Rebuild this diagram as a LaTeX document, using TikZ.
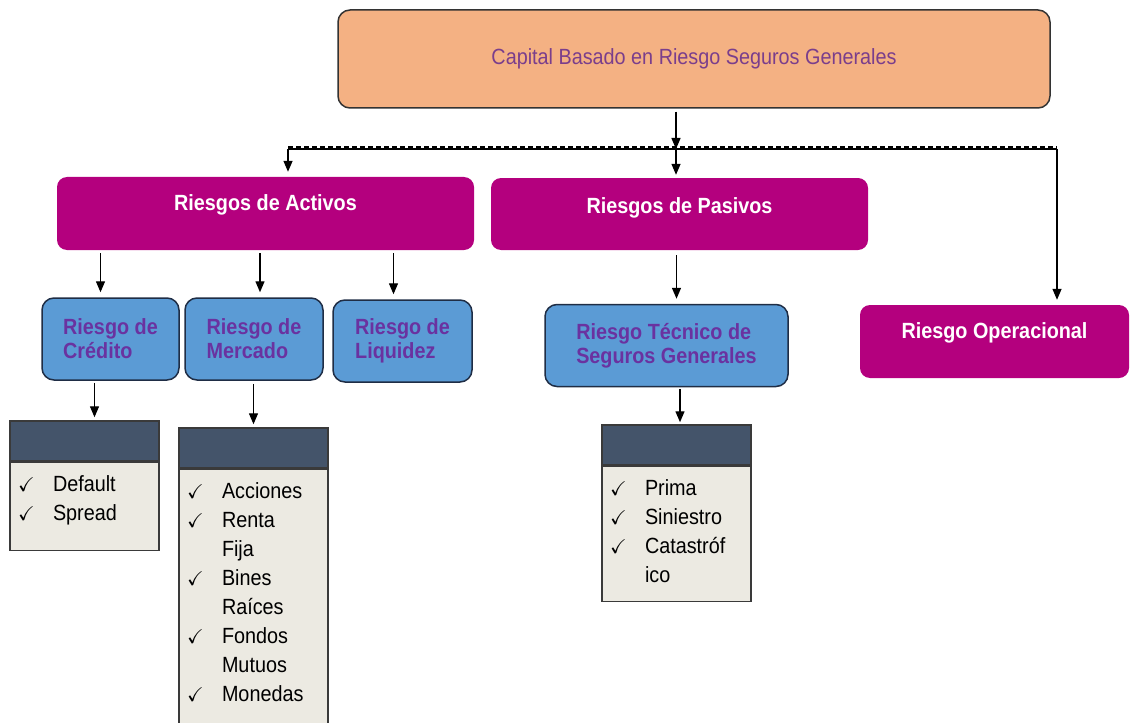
\documentclass[tikz,border=0pt]{standalone}
\usepackage{amssymb}
\usepackage{fontspec}
\setmainfont{Liberation Sans}[FakeStretch=0.9]
\usetikzlibrary{arrows.meta,positioning}
\definecolor{peach}{HTML}{F4B183}
\definecolor{capviolet}{HTML}{7A3E8C}
\definecolor{magentabox}{HTML}{B4007E}
\definecolor{bluebox}{HTML}{5B9BD5}
\definecolor{blueedge}{HTML}{1F2D45}
\definecolor{bluetext}{HTML}{6A32A0}
\definecolor{listhead}{HTML}{44546A}
\definecolor{listbody}{HTML}{ECEAE2}
\definecolor{listedge}{HTML}{3A3A3A}

\newcommand{\ck}{\makebox[35pt][l]{\fontsize{20}{20}\selectfont$\checkmark$}}
\newcommand{\nock}{\makebox[35pt][l]{}}

\tikzset{
  every node/.style={font=\fontsize{22}{26}\selectfont},
  capbox/.style={rectangle,rounded corners=12pt,draw=black!80,line width=1.5pt,fill=peach,text=capviolet,minimum width=712pt,minimum height=98pt},
  riskbox/.style={rectangle,rounded corners=10pt,fill=magentabox,text=white,font=\fontsize{22}{26}\selectfont\bfseries,inner ysep=0pt,text height=14pt,text depth=#1},
  subbox/.style={rectangle,rounded corners=12pt,draw=blueedge,line width=1.5pt,fill=bluebox,text=bluetext,font=\fontsize{22}{24}\selectfont\bfseries,align=left,minimum height=82pt},
  listhd/.style={rectangle,draw=listedge,line width=1.5pt,fill=listhead,minimum width=149pt,minimum height=40pt,inner sep=0pt},
  listbd/.style={rectangle,draw=listedge,line width=1.5pt,fill=listbody,font=\fontsize{22}{29}\selectfont,text width=133pt,inner xsep=8pt,inner ysep=0pt,align=left,text height=29pt,text depth=#1},
  arr/.style={-{Triangle[width=9pt,length=11pt]},line width=1.4pt},
}

\begin{document}
\begin{tikzpicture}[x=1pt,y=-1pt]
\useasboundingbox (0,0) rectangle (1131,722);
\clip (0,0) rectangle (1131,722);

\node[capbox] (capital) at (694,59) {Capital Basado en Riesgo Seguros Generales};

\node[riskbox=21pt,minimum width=417pt,minimum height=73pt] (activos) at (265.5,213.5) {Riesgos de Activos};
\node[riskbox=16pt,minimum width=377pt,minimum height=72pt] (pasivos) at (679.5,214) {Riesgos de Pasivos};
\node[riskbox=21pt,minimum width=269pt,minimum height=73pt] (operacional) at (994.5,341.5) {Riesgo Operacional};

\node[subbox,minimum width=137pt] (credito) at (110.5,339) {Riesgo de\\Crédito};
\node[subbox,minimum width=138pt] (mercado) at (254,339) {Riesgo de\\Mercado};
\node[subbox,minimum width=139pt] (liquidez) at (402.5,341) {Riesgo de\\Liquidez};
\node[subbox,minimum width=243pt] (tecnico) at (666.5,345.5) {Riesgo Técnico de\\Seguros Generales};

% listas
\node[listhd] (hdcred) at (84.5,441) {};
\node[listbd=59pt,below=0pt of hdcred] (bdcred) {\ck Default\\\ck Spread};
\node[listhd] (hdmerc) at (253.5,448) {};
\node[listbd=240pt,below=0pt of hdmerc] (bdmerc) {\ck Acciones\\\ck Renta\\\nock Fija\\\ck Bines\\\nock Raíces\\\ck Fondos\\\nock Mutuos\\\ck Monedas};
\node[listhd] (hdtec) at (676.5,445) {};
\node[listbd=106pt,below=0pt of hdtec] (bdtec) {\ck Prima\\\ck Siniestro\\\ck Catastróf\\\nock ico};

% conectores
\coordinate (jleft) at (288,149);
\coordinate (jmid) at (676,149);
\coordinate (jright) at (1057,149);
\draw[arr,shorten <=3pt] (capital.south -| jmid) -- (jmid);
\draw[line width=1.4pt] (jleft) -- (jright);
\draw[line width=1.2pt,dash pattern=on 5pt off 3pt] ([yshift=2pt]jleft) -- ([yshift=2pt]jright);
\draw[arr,shorten >=5pt] (jleft) -- (jleft |- activos.north);
\draw[arr,shorten >=3pt] (jmid) -- (jmid |- pasivos.north);
\draw[arr,shorten >=5pt] (jright) -- (jright |- operacional.north);

\draw[arr,shorten <=3pt,shorten >=5pt] ([xshift=-10pt]credito.north |- activos.south) -- ([xshift=-10pt]credito.north);
\draw[arr,shorten <=3pt,shorten >=5pt] ([xshift=6pt]mercado.north |- activos.south) -- ([xshift=6pt]mercado.north);
\draw[arr,shorten <=3pt,shorten >=5pt] ([xshift=-9pt]liquidez.north |- activos.south) -- ([xshift=-9pt]liquidez.north);
\draw[arr,shorten <=5pt,shorten >=5pt] ([xshift=10pt]tecnico.north |- pasivos.south) -- ([xshift=10pt]tecnico.north);

\draw[arr,shorten <=2pt,shorten >=3pt] ([xshift=10pt]hdcred.north |- credito.south) -- ([xshift=10pt]hdcred.north);
\draw[arr,shorten <=3pt,shorten >=3pt] (hdmerc.north |- mercado.south) -- (hdmerc.north);
\draw[arr,shorten <=2pt,shorten >=2pt] ([xshift=3.5pt]hdtec.north |- tecnico.south) -- ([xshift=3.5pt]hdtec.north);
\end{tikzpicture}
\end{document}
